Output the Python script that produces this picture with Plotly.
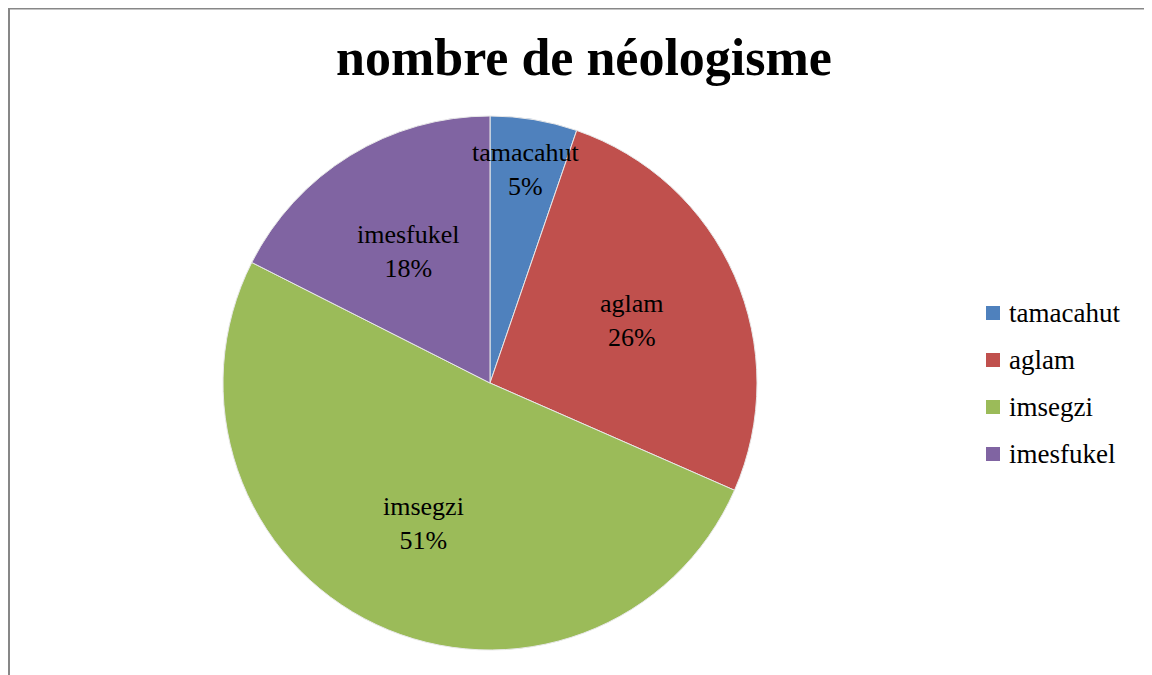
import math
import plotly.graph_objects as go

# data
categories = ["tamacahut", "aglam", "imsegzi", "imesfukel"]
counts = [6, 30, 58, 20]
colors = ["#4F81BD", "#C0504D", "#9BBB59", "#8064A2"]

# the page puts the figure 8px in from the top-left corner
OFF = 8
W, H = 1152 - OFF, 675 - OFF
cx, cy, R = 490 - OFF, 383 - OFF, 267  # pie centre / radius in pixels
serif = "Liberation Serif"

fig = go.Figure(go.Pie(
    labels=categories,
    values=counts,
    sort=False,
    direction="clockwise",
    rotation=0,
    marker=dict(colors=colors, line=dict(color="#e8e8e8", width=1)),
    textinfo="none",
    hoverinfo="label+percent",
    showlegend=False,
    domain=dict(x=[(cx - R) / W, (cx + R) / W],
                y=[(H - cy - R) / H, (H - cy + R) / H]),
))

# slice labels, placed at each slice's mid angle
total = sum(counts)
cum = 0
for name, v in zip(categories, counts):
    frac = v / total
    mid = 2 * math.pi * (cum + frac / 2)
    cum += frac
    rr = 0.81 if frac < 0.1 else 0.58
    px_ = cx + rr * R * math.sin(mid)
    py_ = cy - rr * R * math.cos(mid)
    fig.add_annotation(
        x=px_ / W, y=1 - py_ / H, xref="paper", yref="paper",
        text=f"{name}<br>{round(frac * 100)}%", showarrow=False,
        font=dict(family=serif, size=26, color="black"),
        xanchor="center", yanchor="middle",
    )

# legend drawn by hand so the row spacing matches
for i, (name, c) in enumerate(zip(categories, colors)):
    yc = 313 - OFF + i * 47
    fig.add_shape(type="rect", xref="paper", yref="paper",
                  x0=(986 - OFF) / W, x1=(1000 - OFF) / W,
                  y0=1 - (yc + 7) / H, y1=1 - (yc - 7) / H,
                  fillcolor=c, line=dict(width=0))
    fig.add_annotation(x=(1007 - OFF) / W, y=1 - yc / H, xref="paper", yref="paper",
                       text=name, showarrow=False, xanchor="left", yanchor="middle",
                       font=dict(family=serif, size=27, color="black"))

# chart frame: only the left and top edges are visible
frame = dict(color="#878787", width=2)
fx, fy = 1 / W, 1 - 0.5 / H
fig.add_shape(type="line", xref="paper", yref="paper", x0=fx, x1=fx, y0=-0.05, y1=fy, line=frame)
fig.add_shape(type="line", xref="paper", yref="paper", x0=0, x1=1.05, y0=fy, y1=fy, line=frame)

fig.update_layout(
    width=W, height=H,
    margin=dict(l=0, r=0, t=0, b=0),
    paper_bgcolor="white",
    title=dict(text="<b>nombre de néologisme</b>", x=(584 - OFF) / W, y=1 - (57 - OFF) / H,
               xanchor="center", yanchor="middle",
               font=dict(family=serif, size=52, color="black")),
)

fig.write_html("out.html")
